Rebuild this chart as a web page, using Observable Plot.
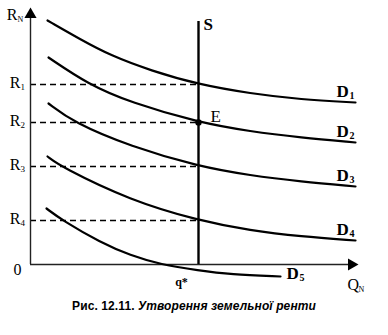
<!DOCTYPE html>
<html>
<head>
<meta charset="utf-8">
<script src="https://cdn.jsdelivr.net/npm/d3@7"></script>
<script src="https://cdn.jsdelivr.net/npm/@observablehq/plot@0.6"></script>
<style>
  html, body { margin: 0; padding: 0; background: #fff; }
  #wrap { position: relative; width: 388px; height: 335px; overflow: hidden; }
  #caption { position: absolute; left: 0; top: 299px; width: 388px; text-align: center;
    font-family: "Liberation Sans", Arial, sans-serif; font-weight: bold; font-size: 12px;
    letter-spacing: 0.1px; color: #000; }
  #caption i { font-style: italic; }
</style>
</head>
<body>
<div id="wrap">
  <div id="chart"></div>
  <div id="caption">Рис. 12.11. <i>Утворення земельної ренти</i></div>
</div>
<script>
// Rent levels (R axis) and their labels
const rNames = ["R", "R", "R", "R"];
const rSubs = ["1", "2", "3", "4"];
const rValues = [180, 142, 98, 44];

// Supply (fixed quantity of land)
const qStar = 168;
const sTop = 243;

// Demand curves D1..D5 (x = Q, y = R)
const curveNames = ["1", "2", "3", "4", "5"];
const d1 = [[17,244],[50,225],[80,209],[120,194],[168,180],[220,171],[270,165],[325,162]];
const d2 = [[18,207],[58,180],[100,162],[168,142],[220,133],[270,127],[325,122]];
const d3 = [[18,161],[43,142],[100,118],[168,98],[220,89],[270,83],[325,78]];
const d4 = [[17,108],[30,98],[100,64],[168,44],[220,34],[270,28],[325,24]];
const d5 = [[16,56],[32,44],[70,22],[100,9],[130,0],[168,-6],[200,-10],[250,-12]];
const curves = [d1, d2, d3, d4, d5];

// Axis extents
const xMax = 325;
const yMax = 254;

const lineData = curves.flatMap((c, i) => c.map(([x, y]) => ({x, y, k: curveNames[i]})));
const ends = curves.map((c, i) => ({x: c[c.length - 1][0], y: c[c.length - 1][1], s: curveNames[i]}));
const rTicks = rValues.map((v, i) => ({v, n: rNames[i], s: rSubs[i]}));
const eq = [{x: qStar, y: rValues[1]}];

const serif = "Liberation Serif, Times New Roman, serif";

const chart = Plot.plot({
  width: 388,
  height: 298,
  marginLeft: 30,
  marginRight: 33,
  marginTop: 10,
  marginBottom: 34,
  x: {domain: [0, xMax], axis: null},
  y: {domain: [0, yMax], axis: null},
  style: {fontFamily: serif, background: "#fff"},
  marks: [
    // dashed rent levels
    Plot.ruleY(rTicks, {y: "v", x1: 0, x2: qStar, stroke: "#000", strokeWidth: 1.3, strokeDasharray: "6,4"}),
    // axes
    Plot.ruleX([0], {y1: 0, y2: yMax - 3, stroke: "#222", strokeWidth: 1.4}),
    Plot.ruleY([0], {x1: 0, x2: xMax - 3, stroke: "#222", strokeWidth: 1.4}),
    Plot.dot([{x: 0, y: yMax - 4}], {x: "x", y: "y", symbol: "triangle", r: 4.5, fill: "#000", stroke: null}),
    Plot.dot([{x: xMax - 4, y: 0}], {x: "x", y: "y", symbol: "triangle", r: 4.5, fill: "#000", stroke: null, rotate: 90}),
    // demand curves
    Plot.line(lineData, {x: "x", y: "y", z: "k", curve: "basis", stroke: "#000", strokeWidth: 2.2}),
    // supply line
    Plot.ruleX([qStar], {y1: 0, y2: sTop, stroke: "#000", strokeWidth: 2.4}),
    // equilibrium
    Plot.dot(eq, {x: "x", y: "y", r: 3.2, fill: "#000"}),
    Plot.text(eq, {x: "x", y: "y", text: () => "E", dx: 12, dy: -1, lineAnchor: "bottom", textAnchor: "start", fontSize: 17, fill: "#000"}),
    Plot.text([{x: qStar, y: sTop}], {x: "x", y: "y", text: () => "S", dx: 5, dy: 8, lineAnchor: "bottom", textAnchor: "start", fontSize: 17, fontWeight: "bold", fill: "#000"}),
    // R labels
    Plot.text(rTicks, {x: () => -10, y: "v", text: "n", dy: 3, lineAnchor: "bottom", textAnchor: "end", fontSize: 16, fill: "#000"}),
    Plot.text(rTicks, {x: () => -10, y: "v", text: "s", dy: 5, lineAnchor: "bottom", textAnchor: "start", fontSize: 9, fill: "#000"}),
    Plot.text([{x: -13, y: yMax}], {x: "x", y: "y", text: () => "R", dy: 9, lineAnchor: "bottom", textAnchor: "end", fontSize: 16, fill: "#000"}),
    Plot.text([{x: -13, y: yMax}], {x: "x", y: "y", text: () => "N", dy: 11, lineAnchor: "bottom", textAnchor: "start", fontSize: 8, fill: "#000"}),
    Plot.text([{x: -13, y: 0}], {x: "x", y: "y", text: () => "0", dy: 10, lineAnchor: "bottom", textAnchor: "middle", fontSize: 16, fill: "#000"}),
    // Q labels
    Plot.text([{x: qStar, y: 0}], {x: "x", y: "y", text: () => "q*", dx: -17, dy: 21, lineAnchor: "bottom", textAnchor: "middle", fontSize: 12, fontWeight: "bold", fill: "#000"}),
    Plot.text([{x: xMax, y: 0}], {x: "x", y: "y", text: () => "Q", dx: -8, dy: 25, lineAnchor: "bottom", textAnchor: "start", fontSize: 16, fill: "#000"}),
    Plot.text([{x: xMax, y: 0}], {x: "x", y: "y", text: () => "N", dx: 3, dy: 27, lineAnchor: "bottom", textAnchor: "start", fontSize: 8, fill: "#000"}),
    // D labels
    Plot.text(ends.slice(0, 4), {x: "x", y: "y", text: () => "D", dx: -19, dy: -6, lineAnchor: "bottom", textAnchor: "start", fontSize: 17, fontWeight: "bold", fill: "#000"}),
    Plot.text(ends.slice(0, 4), {x: "x", y: "y", text: "s", dx: -6, dy: -4, lineAnchor: "bottom", textAnchor: "start", fontSize: 10, fontWeight: "bold", fill: "#000"}),
    Plot.text(ends.slice(4), {x: "x", y: "y", text: () => "D", dx: 6, dy: 2, lineAnchor: "bottom", textAnchor: "start", fontSize: 17, fontWeight: "bold", fill: "#000"}),
    Plot.text(ends.slice(4), {x: "x", y: "y", text: "s", dx: 19, dy: 4, lineAnchor: "bottom", textAnchor: "start", fontSize: 10, fontWeight: "bold", fill: "#000"})
  ]
});
document.getElementById("chart").appendChild(chart);
</script>
</body>
</html>
